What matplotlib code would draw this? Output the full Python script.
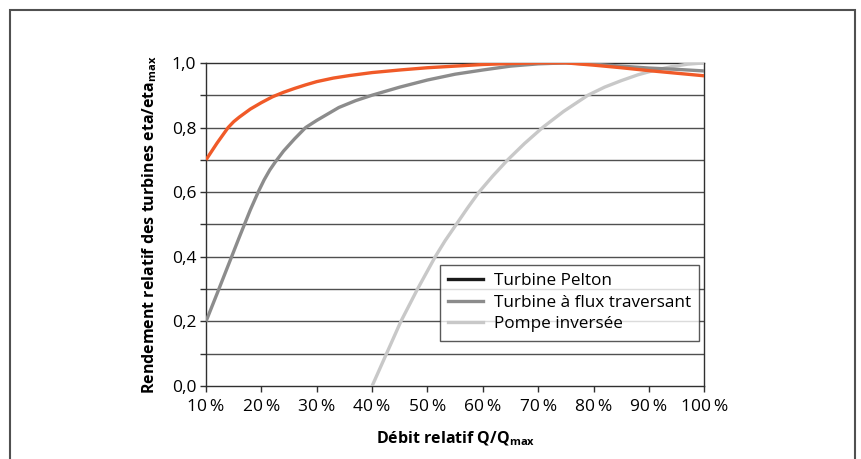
import matplotlib
matplotlib.use("Agg")
import matplotlib.pyplot as plt
from matplotlib.lines import Line2D
from matplotlib.patches import Rectangle
from matplotlib.ticker import MultipleLocator

plt.rcParams["font.family"] = ["Open Sans", "DejaVu Sans"]
plt.rcParams["mathtext.default"] = "regular"

# relative flow (%) and relative efficiency
pelton_x = [10, 12, 14, 15, 16, 18, 20, 22, 24, 26, 28, 30, 33, 36, 40, 45, 50,
            55, 60, 65, 70, 75, 80, 85, 90, 95, 100]
pelton_y = [0.70, 0.752, 0.80, 0.818, 0.832, 0.857, 0.877, 0.895, 0.909, 0.921,
            0.932, 0.942, 0.953, 0.961, 0.97, 0.978, 0.985, 0.99, 0.995, 0.998,
            1.0, 1.0, 0.993, 0.985, 0.976, 0.968, 0.96]

cross_x = [10, 12, 14, 16, 18, 19.5, 20.5, 21.5, 22.5, 24, 26, 28, 30, 32, 34, 37,
           40, 45, 50, 55, 60, 65, 70, 75, 80, 85, 90, 95, 100]
cross_y = [0.20, 0.286, 0.373, 0.46, 0.545, 0.603, 0.638, 0.668, 0.693, 0.727,
           0.765, 0.80, 0.822, 0.842, 0.862, 0.883, 0.90, 0.925, 0.947, 0.965,
           0.978, 0.99, 0.997, 1.0, 0.996, 0.99, 0.984, 0.98, 0.975]

pump_x = [40, 42.6, 45.2, 48.2, 51.4, 53.2, 55.2, 57.2, 59.3, 61.8, 64.5, 67.5,
          70.8, 74.6, 79, 82, 85, 88, 91, 94, 97, 100]
pump_y = [0.0, 0.1, 0.2, 0.3, 0.4, 0.45, 0.5, 0.55, 0.6, 0.65, 0.7, 0.75, 0.8,
          0.85, 0.9, 0.925, 0.945, 0.963, 0.977, 0.988, 0.996, 1.0]

labels = ["Turbine Pelton", "Turbine à flux traversant", "Pompe inversée"]
x_ticks = [10, 20, 30, 40, 50, 60, 70, 80, 90, 100]
y_ticks = [0.0, 0.2, 0.4, 0.6, 0.8, 1.0]

fig = plt.figure(figsize=(8.62, 4.59), dpi=100)
ax = fig.add_axes([0.239, 0.159, 0.578, 0.704])

# outer frame of the figure box
fig.patches.append(Rectangle((10 / 862, -0.05), 845 / 862, (449 / 459) + 0.05,
                             transform=fig.transFigure, fill=False,
                             edgecolor="#505050", lw=1.5))

for y in [0.1, 0.2, 0.3, 0.4, 0.5, 0.6, 0.7, 0.8, 0.9]:
    ax.axhline(y, color="#505050", lw=1.0, zorder=1)

line_kw = dict(lw=2.4, solid_joinstyle="round", solid_capstyle="butt")
ax.plot(pump_x, pump_y, color="#c8c8c8", zorder=3, **line_kw)
ax.plot(cross_x, cross_y, color="#8c8c8c", zorder=4, **line_kw)
ax.plot(pelton_x, pelton_y, color="#f05a28", zorder=5, **line_kw)

ax.set_xlim(10, 100)
ax.set_ylim(0, 1.0)
ax.set_xticks(x_ticks)
ax.set_xticklabels([f"{t}\u2009%" for t in x_ticks], fontsize=12.5)
ax.set_yticks(y_ticks)
ax.set_yticklabels([f"{t:.1f}".replace(".", ",") for t in y_ticks], fontsize=12.5)
ax.yaxis.set_minor_locator(MultipleLocator(0.1))
ax.tick_params(axis="both", which="both", direction="out", length=4,
               width=1.0, color="#303030")
ax.tick_params(axis="x", pad=5)
ax.tick_params(axis="y", pad=3)
for s in ax.spines.values():
    s.set_color("#303030")
    s.set_linewidth(1.0)

ax.set_xlabel("Débit relatif Q/Q$_{max}$", fontsize=11.5, fontweight="bold",
              labelpad=11)
ax.set_ylabel("Rendement relatif des turbines eta/eta$_{max}$", fontsize=11.5,
              fontweight="bold", labelpad=9)

handles = [Line2D([], [], color="#1a1a1a", lw=2.4),
           Line2D([], [], color="#8c8c8c", lw=2.4),
           Line2D([], [], color="#c8c8c8", lw=2.4)]
leg = ax.legend(handles, labels, loc="lower right", bbox_to_anchor=(0.99, 0.14),
                fontsize=12.3, frameon=True, fancybox=False, handlelength=2.05,
                borderpad=0.5, labelspacing=0.32, handletextpad=0.6,
                borderaxespad=0.0)
leg.get_frame().set_edgecolor("#303030")
leg.get_frame().set_linewidth(1.0)

fig.savefig("out.png", dpi=100)
